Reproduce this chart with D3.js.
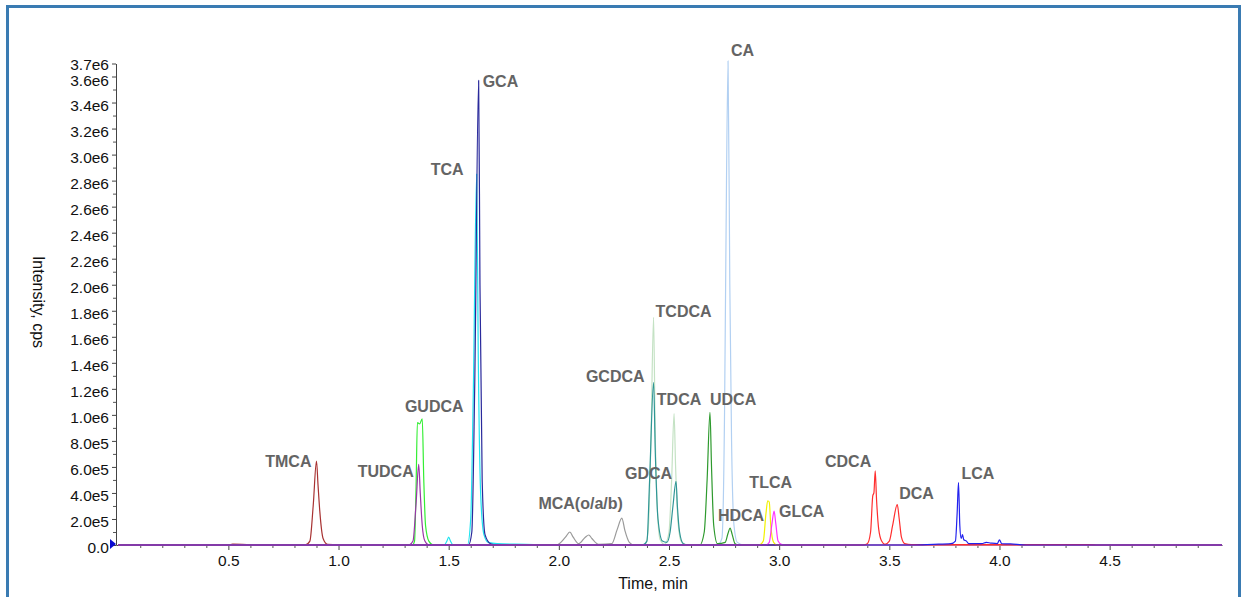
<!DOCTYPE html>
<html>
<head>
<meta charset="UTF-8">
<title>Bile acid XIC</title>
<style>
  * { margin: 0; padding: 0; }
  body { background: #fff; overflow: hidden; }
  text { font-family: "Liberation Sans", Arial, sans-serif; }
</style>
<script src="https://d3js.org/d3.v7.min.js"></script>
</head>
<body>
<script>
// traces: [time (min), intensity (cps)]
const tmca = [[0,0],[0.2,0],[0.22,4e3],[0.4,4e3],[0.42,0],[0.5,0],[0.52,6e3],[0.6,3e3],[0.85,2e3],[0.87,3e4],[0.885,3.0e5],[0.9,6.44e5],[0.907,4.6e5],[0.915,2.6e5],[0.93,5e4],[0.95,5e3],[1.0,2e3],[1.5,2e3],[1.6,0],[5.01,0]];
const tudca = [[0,0],[1.32,0],[1.338,3e4],[1.352,3.2e5],[1.364,6.2e5],[1.371,4.0e5],[1.38,1.5e5],[1.392,3e4],[1.41,0],[5.01,0]];
const gudca = [[0,0],[1.335,0],[1.345,3e4],[1.352,4.5e5],[1.358,9.4e5],[1.368,9.3e5],[1.38,9.7e5],[1.387,5e5],[1.395,1.5e5],[1.41,3e4],[1.43,0],[5.01,0]];
const tca = [[0,0],[1.48,0],[1.492,3e4],[1.5,6e4],[1.508,3e4],[1.52,0],[1.585,0],[1.6,2e5],[1.612,1.2e6],[1.627,2.85e6],[1.634,1.5e6],[1.645,4e5],[1.66,8e4],[1.68,2e4],[1.72,1e4],[1.85,5e3],[1.95,0],[5.01,0]];
const gca = [[0,0],[1.59,0],[1.605,1e5],[1.618,1.2e6],[1.636,3.57e6],[1.642,2.0e6],[1.652,5e5],[1.665,8e4],[1.69,1e4],[1.72,0],[5.01,0]];
const mca = [[0,0],[1.99,0],[2.03,6e4],[2.05,1.0e5],[2.065,6e4],[2.09,1e4],[2.12,6e4],[2.136,7.7e4],[2.15,5e4],[2.18,5e3],[2.24,1e4],[2.265,1.2e5],[2.286,2.07e5],[2.3,1.1e5],[2.32,2e4],[2.34,0],[5.01,0]];
const tcdca = [[0,0],[2.39,0],[2.405,1e5],[2.418,8e5],[2.43,1.75e6],[2.437,9e5],[2.448,2.5e5],[2.46,4e4],[2.48,5e3],[2.5,1e5],[2.512,5e5],[2.523,1.01e6],[2.53,6e5],[2.54,2e5],[2.555,3e4],[2.58,0],[5.01,0]];
const gcdca = [[0,0],[2.38,0],[2.4,3e4],[2.412,5e5],[2.43,1.25e6],[2.438,7e5],[2.45,2e5],[2.47,3e4],[2.49,2e4],[2.505,1e5],[2.518,3e5],[2.532,4.9e5],[2.538,3e5],[2.548,1e5],[2.565,1e4],[2.59,0],[5.01,0]];
const udca = [[0,0],[2.64,0],[2.66,1e5],[2.673,5e5],[2.686,1.02e6],[2.693,6e5],[2.703,1.5e5],[2.72,1e4],[2.755,2e4],[2.768,9e4],[2.777,1.3e5],[2.787,8e4],[2.8,1e4],[2.82,0],[5.01,0]];
const ca = [[0,0],[2.72,0],[2.74,5e4],[2.752,1.0e6],[2.758,2.2e6],[2.768,3.72e6],[2.776,2.0e6],[2.784,8e5],[2.795,1.5e5],[2.81,2e4],[2.84,0],[5.01,0]];
const tlca = [[0,0],[2.91,0],[2.928,3e4],[2.94,2.4e5],[2.948,3.4e5],[2.955,3.3e5],[2.962,1.5e5],[2.975,2e4],[2.99,0],[5.01,0]];
const glca = [[0,0],[2.94,0],[2.955,2e4],[2.967,1.6e5],[2.977,2.6e5],[2.985,1.6e5],[2.995,3e4],[3.01,5e3],[3.03,0],[5.01,0]];
const cdca = [[0,0],[3.38,0],[3.4,1e4],[3.415,1e5],[3.425,3.8e5],[3.43,4.0e5],[3.436,5.7e5],[3.442,3.5e5],[3.452,1.2e5],[3.465,3e4],[3.48,5e3],[3.5,3e4],[3.515,1.5e5],[3.536,3.1e5],[3.545,2e5],[3.555,6e4],[3.57,1e4],[3.6,3e3],[4.4,3e3],[4.45,0],[5.01,0]];
const lca = [[0,0],[3.6,0],[3.7,5e3],[3.78,1e4],[3.8,3e4],[3.808,2.5e5],[3.814,4.8e5],[3.82,1.5e5],[3.826,5e4],[3.832,8e4],[3.838,4e4],[3.85,3e4],[3.86,1e4],[3.92,1e4],[3.94,2e4],[3.96,1.5e4],[3.99,1e4],[4.0,4e4],[4.01,1e4],[4.05,8e3],[4.12,0],[5.01,0]];

// peak labels: name, trace it belongs to, retention time
const peakNames = ["TMCA","TUDCA","GUDCA","TCA","GCA","MCA(o/a/b)","TCDCA","GCDCA","TDCA","GDCA","UDCA","HDCA","CA","TLCA","GLCA","CDCA","DCA","LCA"];
const peakTraces = ["tmca","tudca","gudca","tca","gca","mca","tcdca","gcdca","tcdca","gcdca","udca","udca","ca","tlca","glca","cdca","cdca","lca"];
const peakTimes = [0.9,1.364,1.38,1.627,1.636,2.286,2.43,2.43,2.523,2.532,2.686,2.777,2.768,2.948,2.977,3.436,3.536,3.814];

const xTicks = [0.5,1.0,1.5,2.0,2.5,3.0,3.5,4.0,4.5];
const yTicks = [0,2e5,4e5,6e5,8e5,1e6,1.2e6,1.4e6,1.6e6,1.8e6,2e6,2.2e6,2.4e6,2.6e6,2.8e6,3e6,3.2e6,3.4e6,3.6e6,3.7e6];

const traceData = { tmca, tudca, gudca, tca, gca, mca, tcdca, gcdca, udca, ca, tlca, glca, cdca, lca };
const drawOrder = ["ca","tcdca","mca","tmca","gudca","tudca","tca","gca","gcdca","udca","tlca","glca","cdca","lca"];
const COLORS = {
  tmca: "#a83232", tudca: "#9a35a8", gudca: "#33ee33", tca: "#1ee4f0", gca: "#2a2a9c",
  mca: "#9a9a9a", tcdca: "#c4e2c4", gcdca: "#2f9696", udca: "#2e9a2e", ca: "#b2d0f2",
  tlca: "#f2f200", glca: "#ff33ff", cdca: "#ff2e2e", lca: "#2222ee"
};
const LABEL_POS = {
  "TMCA": [-5, 0, "end"], "TUDCA": [-5, 7, "end"], "GUDCA": [12, -12, "middle"],
  "TCA": [-13, -5, "end"], "GCA": [4, 1, "start"], "MCA(o/a/b)": [1, -15, "end"],
  "TCDCA": [2, -6, "start"], "GCDCA": [-9, -6, "end"], "TDCA": [5, -14, "middle"],
  "GDCA": [-4, -8, "end"], "UDCA": [0, -13, "start"], "HDCA": [11, -13, "middle"],
  "CA": [3, -10, "start"], "TLCA": [3, -18, "middle"], "GLCA": [5, 0, "start"],
  "CDCA": [-4, -9, "end"], "DCA": [2, -11, "start"], "LCA": [3, -9, "start"]
};

const W = 1243, H = 597;
const svg = d3.select("body").append("svg").attr("width", W).attr("height", H);

// frame
svg.append("rect")
  .attr("x", 7.5).attr("y", 6.5).attr("width", 1232).attr("height", 620)
  .attr("fill", "none").attr("stroke", "#3a7bb2").attr("stroke-width", 3);

const x = d3.scaleLinear().domain([-0.01, 5.01]).range([116, 1222]);
const y = d3.scaleLinear().domain([0, 3.7e6]).range([545, 63.5]);

const fmtY = v => {
  if (v === 0) return "0.0";
  const e = Math.floor(Math.log10(v) + 1e-9);
  return (v / Math.pow(10, e)).toFixed(1) + "e" + e;
};

// minor ticks
svg.append("g").attr("transform", "translate(0,545)")
  .call(d3.axisBottom(x).tickValues(d3.range(1, 50).filter(i => i % 5 !== 0).map(i => i / 10)).tickSize(3).tickFormat(""))
  .call(g => g.select(".domain").remove())
  .call(g => g.selectAll("line").attr("stroke", "#555"));
svg.append("g").attr("transform", "translate(116,0)")
  .call(d3.axisLeft(y).tickValues(d3.range(1, 36, 2).map(i => i * 1e5)).tickSize(3).tickFormat(""))
  .call(g => g.select(".domain").remove())
  .call(g => g.selectAll("line").attr("stroke", "#555"));

const xAxis = svg.append("g").attr("transform", "translate(0,545)")
  .call(d3.axisBottom(x).tickValues(xTicks).tickFormat(d3.format(".1f")).tickSize(5).tickSizeOuter(0).tickPadding(5));
const yAxis = svg.append("g").attr("transform", "translate(116,0)")
  .call(d3.axisLeft(y).tickValues(yTicks).tickFormat(fmtY).tickSize(4).tickSizeOuter(0).tickPadding(3));
[xAxis, yAxis].forEach(a => {
  a.select(".domain").attr("stroke", "#444");
  a.selectAll("line").attr("stroke", "#444");
  a.selectAll("text").attr("font-size", 15.5).attr("fill", "#111")
    .attr("font-family", "'Liberation Sans', Arial, sans-serif");
});
// y labels sit a little below their ticks; top pair nudged apart
yAxis.selectAll(".tick text")
  .attr("transform", d => `translate(0,${d === 3.7e6 ? 1 : d === 3.6e6 ? 4 : 2.5})`);

// traces
const line = d3.line().x(d => x(d[0])).y(d => y(d[1])).curve(d3.curveMonotoneX);
drawOrder.forEach(k => {
  svg.append("path")
    .datum(traceData[k])
    .attr("d", line)
    .attr("fill", "none")
    .attr("stroke", COLORS[k])
    .attr("stroke-width", 1.2)
    .attr("stroke-linejoin", "round");
});

// zero marker
svg.append("path")
  .attr("d", `M110,${y(0) - 6}L116,${y(0) - 1}L110,${y(0) + 4}Z`)
  .attr("fill", "#0a0ad0");

// peak labels
peakNames.forEach((name, i) => {
  const pts = traceData[peakTraces[i]];
  const p = pts.find(d => d[0] === peakTimes[i]);
  const s = LABEL_POS[name];
  svg.append("text")
    .attr("x", x(p[0]) + s[0])
    .attr("y", y(p[1]) + s[1])
    .attr("dy", "0.35em")
    .attr("text-anchor", s[2])
    .attr("font-size", 16)
    .attr("font-weight", "bold")
    .attr("fill", "#646464")
    .text(name);
});

// axis titles
svg.append("text")
  .attr("transform", "translate(33,302) rotate(90)")
  .attr("text-anchor", "middle")
  .attr("font-size", 16)
  .attr("fill", "#111")
  .text("Intensity, cps");
svg.append("text")
  .attr("x", 653).attr("y", 589)
  .attr("text-anchor", "middle")
  .attr("font-size", 16)
  .attr("fill", "#111")
  .text("Time, min");
</script>
</body>
</html>
